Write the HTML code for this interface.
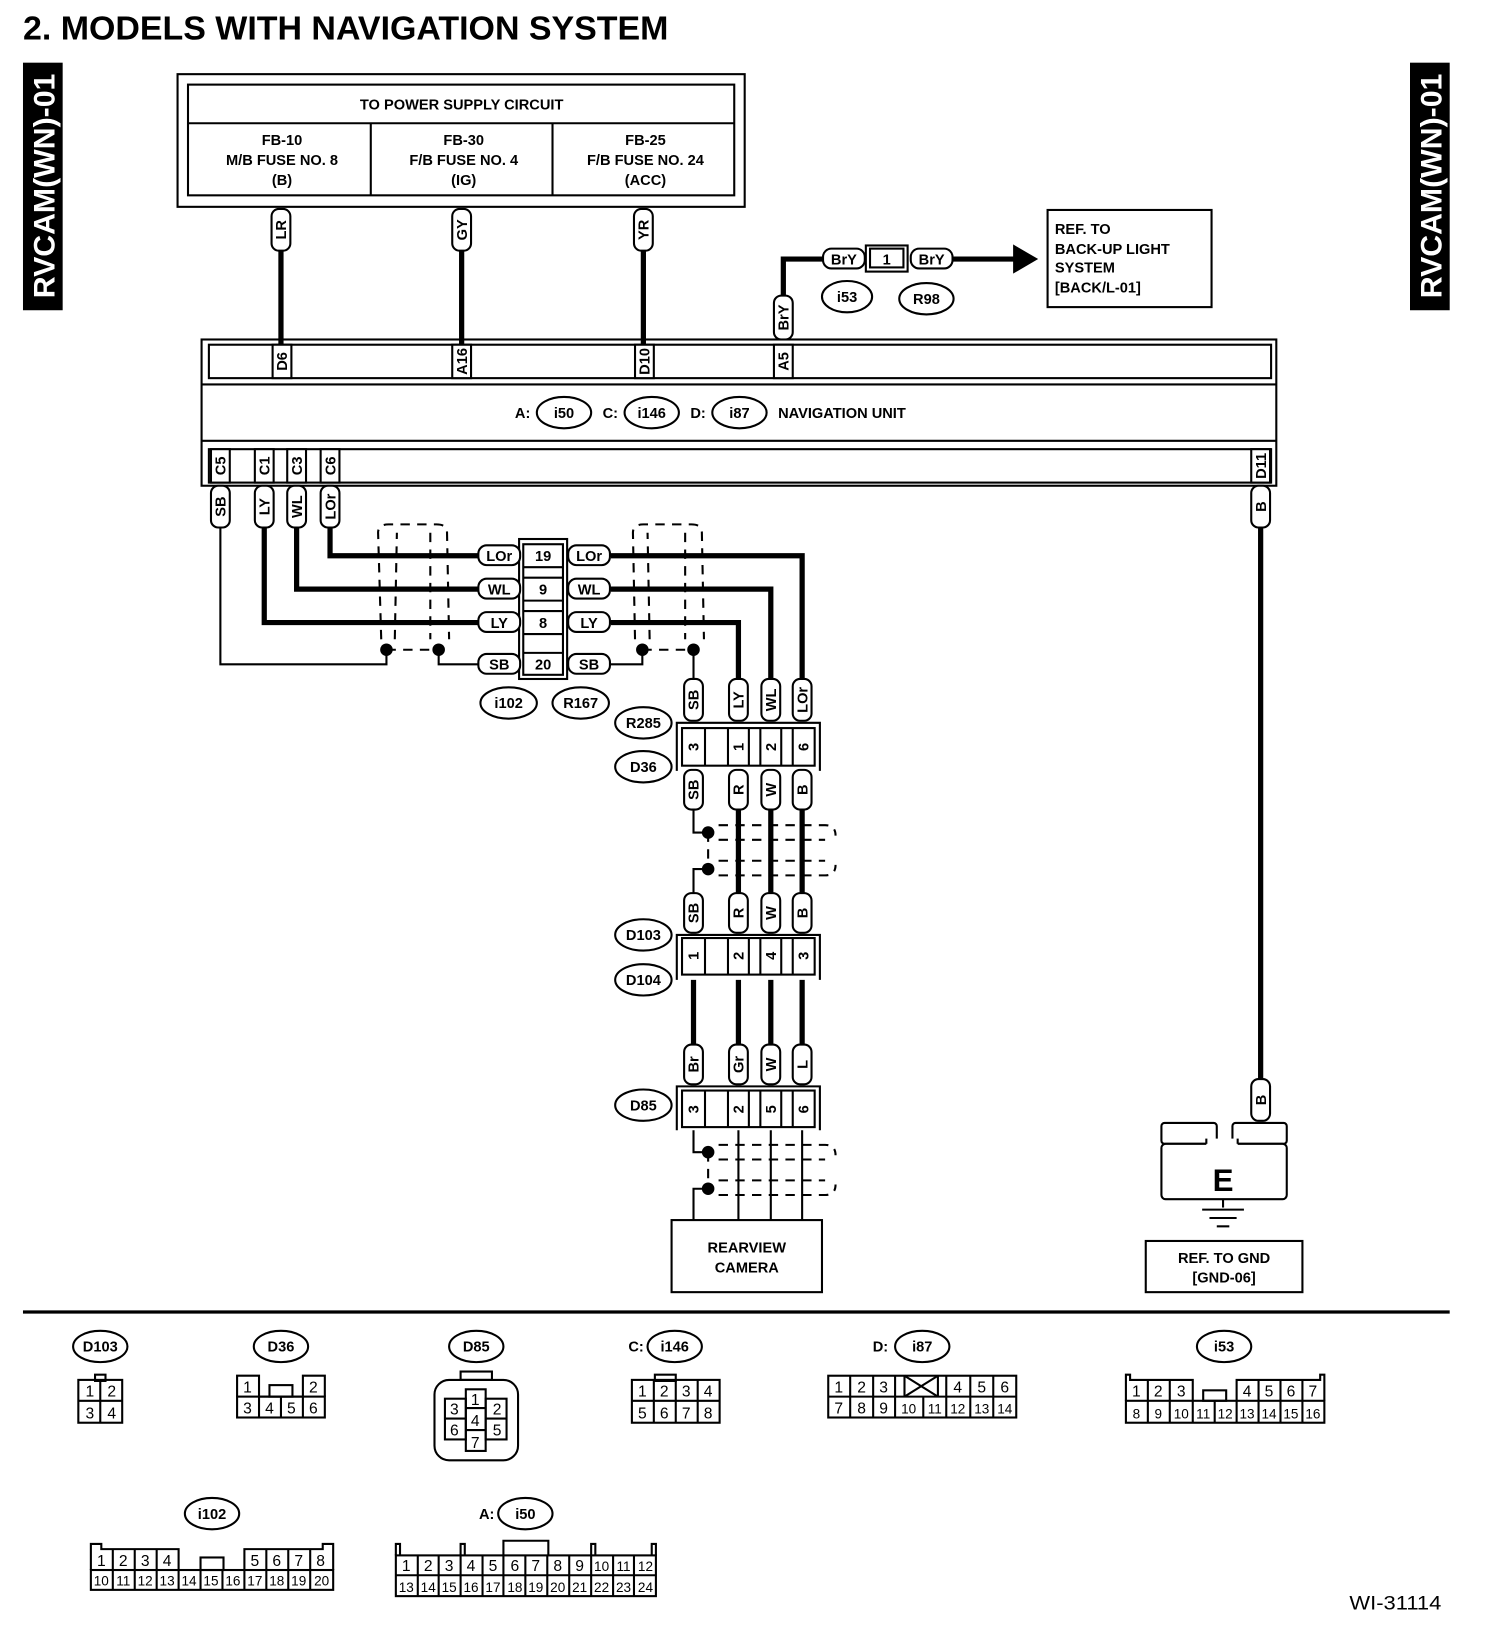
<!DOCTYPE html>
<html><head><meta charset="utf-8"><style>
html,body{margin:0;padding:0;background:#fff}
svg{display:block}
text{font-family:"Liberation Sans",sans-serif;fill:#000}
.b{font-weight:bold}
.p{fill:#fff;stroke:#000;stroke-width:2}
.t{fill:none;stroke:#000;stroke-width:2}
.w{fill:none;stroke:#000;stroke-width:5}
.d{fill:none;stroke:#000;stroke-width:2;stroke-dasharray:9 7}
.s{font-size:14px;font-weight:bold}
.c{font-size:15px}
</style></head><body>
<svg width="1504" height="1640" viewBox="0 0 1440 1570" preserveAspectRatio="none" xmlns="http://www.w3.org/2000/svg">
<text x="22" y="38" class="b" font-size="32" textLength="618" lengthAdjust="spacingAndGlyphs">2.  MODELS WITH NAVIGATION SYSTEM</text>
<rect x="22" y="60" width="38" height="237" fill="#000"/>
<text transform="translate(52,178) rotate(-90)" text-anchor="middle" font-size="28" class="b" textLength="215" lengthAdjust="spacingAndGlyphs" style="fill:#fff">RVCAM(WN)-01</text>
<rect x="1350" y="60" width="38" height="237" fill="#000"/>
<text transform="translate(1380,178) rotate(-90)" text-anchor="middle" font-size="28" class="b" textLength="215" lengthAdjust="spacingAndGlyphs" style="fill:#fff">RVCAM(WN)-01</text>

<!-- fuse box -->
<rect x="170" y="71" width="543" height="127" class="t"/>
<rect x="180" y="81" width="523" height="106" class="t" stroke-width="3"/>
<line x1="180" y1="118" x2="703" y2="118" class="t"/>
<line x1="355" y1="118" x2="355" y2="187" class="t"/>
<line x1="529" y1="118" x2="529" y2="187" class="t"/>
<g class="s" text-anchor="middle">
<text x="442" y="105">TO POWER SUPPLY CIRCUIT</text>
<text x="270" y="139">FB-10</text><text x="270" y="158">M/B FUSE NO. 8</text><text x="270" y="177">(B)</text>
<text x="444" y="139">FB-30</text><text x="444" y="158">F/B FUSE NO. 4</text><text x="444" y="177">(IG)</text>
<text x="618" y="139">FB-25</text><text x="618" y="158">F/B FUSE NO. 24</text><text x="618" y="177">(ACC)</text>
</g>
<line x1="269" y1="240" x2="269" y2="330" class="w"/>
<line x1="442" y1="240" x2="442" y2="330" class="w"/>
<line x1="616" y1="240" x2="616" y2="330" class="w"/>
<rect x="260" y="200" width="18" height="40" rx="7" class="p"/><text class="s" text-anchor="middle" transform="translate(274,220) rotate(-90)">LR</text>
<rect x="433" y="200" width="18" height="40" rx="7" class="p"/><text class="s" text-anchor="middle" transform="translate(447,220) rotate(-90)">GY</text>
<rect x="607" y="200" width="18" height="40" rx="7" class="p"/><text class="s" text-anchor="middle" transform="translate(621,220) rotate(-90)">YR</text>

<!-- BrY -->
<polyline points="750,285 750,248 790,248" class="w"/>
<line x1="912" y1="248" x2="975" y2="248" class="w"/>
<polygon points="970,234 994,248 970,262" fill="#000"/>
<rect x="741" y="283" width="18" height="42" rx="7" class="p"/><text class="s" text-anchor="middle" transform="translate(755,304) rotate(-90)">BrY</text>
<rect x="788" y="238" width="40" height="19" rx="8" class="p"/><text class="s" x="808" y="253" text-anchor="middle">BrY</text>
<rect x="829" y="235" width="40" height="25" class="t"/><rect x="833" y="238" width="32" height="18" class="t"/><text class="s" x="849" y="253" text-anchor="middle">1</text>
<rect x="872" y="238" width="40" height="19" rx="8" class="p"/><text class="s" x="892" y="253" text-anchor="middle">BrY</text>
<ellipse cx="811" cy="284" rx="24" ry="15" class="p"/><text class="s" x="811" y="289" text-anchor="middle">i53</text>
<ellipse cx="887" cy="286" rx="26" ry="15" class="p"/><text class="s" x="887" y="291" text-anchor="middle">R98</text>
<rect x="1003" y="201" width="157" height="93" class="t"/>
<g class="s"><text x="1010" y="224">REF. TO</text><text x="1010" y="243">BACK-UP LIGHT</text><text x="1010" y="261">SYSTEM</text><text x="1010" y="280">[BACK/L-01]</text></g>

<!-- nav unit -->
<rect x="193" y="325" width="1029" height="140" class="t" stroke-width="3"/>
<rect x="200" y="330" width="1017" height="32" class="t"/>
<line x1="193" y1="368" x2="1222" y2="368" class="t" stroke-width="3"/>
<line x1="193" y1="422" x2="1222" y2="422" class="t" stroke-width="3"/>
<rect x="200" y="430" width="1017" height="32" class="t"/>
<g class="s" text-anchor="middle">
<rect x="261" y="330" width="18" height="32" class="p"/><text transform="translate(275,346) rotate(-90)">D6</text>
<rect x="433" y="330" width="18" height="32" class="p"/><text transform="translate(447,346) rotate(-90)">A16</text>
<rect x="608" y="330" width="18" height="32" class="p"/><text transform="translate(622,346) rotate(-90)">D10</text>
<rect x="741" y="330" width="18" height="32" class="p"/><text transform="translate(755,346) rotate(-90)">A5</text>
<rect x="202" y="430" width="18" height="32" class="p"/><text transform="translate(216,446) rotate(-90)">C5</text>
<rect x="244" y="430" width="18" height="32" class="p"/><text transform="translate(258,446) rotate(-90)">C1</text>
<rect x="275" y="430" width="18" height="32" class="p"/><text transform="translate(289,446) rotate(-90)">C3</text>
<rect x="307" y="430" width="18" height="32" class="p"/><text transform="translate(321,446) rotate(-90)">C6</text>
<rect x="1198" y="430" width="18" height="32" class="p"/><text transform="translate(1212,446) rotate(-90)">D11</text>
</g>
<g class="s">
<text x="493" y="400">A:</text><ellipse cx="540" cy="395" rx="26" ry="15" class="p"/><text x="540" y="400" text-anchor="middle">i50</text>
<text x="577" y="400">C:</text><ellipse cx="624" cy="395" rx="26" ry="15" class="p"/><text x="624" y="400" text-anchor="middle">i146</text>
<text x="661" y="400">D:</text><ellipse cx="708" cy="395" rx="26" ry="15" class="p"/><text x="708" y="400" text-anchor="middle">i87</text>
<text x="745" y="400">NAVIGATION UNIT</text>
</g>

<!-- wires left -->
<polyline points="316,505 316,532 458,532" class="w"/>
<polyline points="284,505 284,564 458,564" class="w"/>
<polyline points="253,505 253,596 458,596" class="w"/>
<polyline points="211,505 211,636 370,636 370,622" class="t"/>
<polyline points="458,636 420,636 420,622" class="t"/>
<line x1="370" y1="622" x2="420" y2="622" class="d"/>
<circle cx="370" cy="622" r="6"/><circle cx="420" cy="622" r="6"/>
<path d="M365,612 L362,510 Q362,502 372,502 L418,502 Q428,502 428,510 L430,612" class="d"/>
<path d="M378,612 L380,510 M412,510 L412,612" class="d"/>
<g class="s" text-anchor="middle">
<rect x="202" y="465" width="18" height="40" rx="7" class="p"/><text transform="translate(216,485) rotate(-90)">SB</text>
<rect x="244" y="465" width="18" height="40" rx="7" class="p"/><text transform="translate(258,485) rotate(-90)">LY</text>
<rect x="275" y="465" width="18" height="40" rx="7" class="p"/><text transform="translate(289,485) rotate(-90)">WL</text>
<rect x="307" y="465" width="18" height="40" rx="7" class="p"/><text transform="translate(321,485) rotate(-90)">LOr</text>
</g>
<!-- i102 connector -->
<rect x="497" y="516" width="46" height="134" class="t"/>
<rect x="501" y="521" width="38" height="125" class="t"/>
<g class="t"><line x1="501" y1="543" x2="539" y2="543"/><line x1="501" y1="553" x2="539" y2="553"/><line x1="501" y1="575" x2="539" y2="575"/><line x1="501" y1="585" x2="539" y2="585"/><line x1="501" y1="607" x2="539" y2="607"/><line x1="501" y1="625" x2="539" y2="625"/></g>
<g class="s" text-anchor="middle">
<text x="520" y="537">19</text><text x="520" y="569">9</text><text x="520" y="601">8</text><text x="520" y="641">20</text>
<rect x="458" y="522" width="40" height="19" rx="8" class="p"/><text x="478" y="537">LOr</text>
<rect x="458" y="554" width="40" height="19" rx="8" class="p"/><text x="478" y="569">WL</text>
<rect x="458" y="586" width="40" height="19" rx="8" class="p"/><text x="478" y="601">LY</text>
<rect x="458" y="626" width="40" height="19" rx="8" class="p"/><text x="478" y="641">SB</text>
</g>
<!-- right of i102 -->
<polyline points="585,532 768,532 768,650" class="w"/>
<polyline points="585,564 738,564 738,650" class="w"/>
<polyline points="585,596 707,596 707,650" class="w"/>
<polyline points="585,636 615,636 615,622" class="t"/>
<polyline points="664,650 664,622" class="t"/>
<line x1="615" y1="622" x2="664" y2="622" class="d"/>
<circle cx="615" cy="622" r="6"/><circle cx="664" cy="622" r="6"/>
<path d="M608,612 L606,510 Q606,502 616,502 L662,502 Q672,502 672,510 L674,612" class="d"/>
<path d="M622,612 L620,510 M656,510 L656,612" class="d"/>
<g class="s" text-anchor="middle">
<rect x="544" y="522" width="40" height="19" rx="8" class="p"/><text x="564" y="537">LOr</text>
<rect x="544" y="554" width="40" height="19" rx="8" class="p"/><text x="564" y="569">WL</text>
<rect x="544" y="586" width="40" height="19" rx="8" class="p"/><text x="564" y="601">LY</text>
<rect x="544" y="626" width="40" height="19" rx="8" class="p"/><text x="564" y="641">SB</text>
<ellipse cx="487" cy="673" rx="27" ry="15" class="p"/><text x="487" y="678">i102</text>
<ellipse cx="556" cy="673" rx="27" ry="15" class="p"/><text x="556" y="678">R167</text>
<ellipse cx="616" cy="692" rx="27" ry="15" class="p"/><text x="616" y="697">R285</text>
<ellipse cx="616" cy="734" rx="27" ry="15" class="p"/><text x="616" y="739">D36</text>
<ellipse cx="616" cy="895" rx="27" ry="15" class="p"/><text x="616" y="900">D103</text>
<ellipse cx="616" cy="938" rx="27" ry="15" class="p"/><text x="616" y="943">D104</text>
<ellipse cx="616" cy="1058" rx="27" ry="15" class="p"/><text x="616" y="1063">D85</text>
</g>

<!-- vertical chain -->
<g class="s" text-anchor="middle">
<rect x="655" y="650" width="18" height="40" rx="7" class="p"/><text transform="translate(669,670) rotate(-90)">SB</text>
<rect x="698" y="650" width="18" height="40" rx="7" class="p"/><text transform="translate(712,670) rotate(-90)">LY</text>
<rect x="729" y="650" width="18" height="40" rx="7" class="p"/><text transform="translate(743,670) rotate(-90)">WL</text>
<rect x="759" y="650" width="18" height="40" rx="7" class="p"/><text transform="translate(773,670) rotate(-90)">LOr</text>
</g>
<!-- D36 connector -->
<polyline points="648,738 648,692 785,692 785,738" class="t"/>
<rect x="653" y="697" width="127" height="36" class="t"/>
<g class="t"><line x1="675" y1="697" x2="675" y2="733"/><line x1="697" y1="697" x2="697" y2="733"/><line x1="717" y1="697" x2="717" y2="733"/><line x1="728" y1="697" x2="728" y2="733"/><line x1="748" y1="697" x2="748" y2="733"/><line x1="759" y1="697" x2="759" y2="733"/></g>
<g class="s" text-anchor="middle">
<text transform="translate(669,715) rotate(-90)">3</text><text transform="translate(712,715) rotate(-90)">1</text><text transform="translate(743,715) rotate(-90)">2</text><text transform="translate(774,715) rotate(-90)">6</text>
</g>
<line x1="707" y1="775" x2="707" y2="855" class="w"/>
<line x1="738" y1="775" x2="738" y2="855" class="w"/>
<line x1="768" y1="775" x2="768" y2="855" class="w"/>
<polyline points="664,775 664,797 678,797" class="t"/>
<polyline points="664,855 664,832 678,832" class="t"/>
<line x1="678" y1="797" x2="678" y2="832" class="d"/>
<circle cx="678" cy="797" r="6"/><circle cx="678" cy="832" r="6"/>
<path d="M688,790 L790,790 Q800,790 800,800 M688,804 L790,804 M688,824 L790,824 M688,838 L790,838 Q800,838 800,828" class="d"/>
<g class="s" text-anchor="middle">
<rect x="655" y="737" width="18" height="38" rx="7" class="p"/><text transform="translate(669,756) rotate(-90)">SB</text>
<rect x="698" y="737" width="18" height="38" rx="7" class="p"/><text transform="translate(712,756) rotate(-90)">R</text>
<rect x="729" y="737" width="18" height="38" rx="7" class="p"/><text transform="translate(743,756) rotate(-90)">W</text>
<rect x="759" y="737" width="18" height="38" rx="7" class="p"/><text transform="translate(773,756) rotate(-90)">B</text>
<rect x="655" y="855" width="18" height="38" rx="7" class="p"/><text transform="translate(669,874) rotate(-90)">SB</text>
<rect x="698" y="855" width="18" height="38" rx="7" class="p"/><text transform="translate(712,874) rotate(-90)">R</text>
<rect x="729" y="855" width="18" height="38" rx="7" class="p"/><text transform="translate(743,874) rotate(-90)">W</text>
<rect x="759" y="855" width="18" height="38" rx="7" class="p"/><text transform="translate(773,874) rotate(-90)">B</text>
</g>
<!-- D103 connector -->
<polyline points="648,938 648,895 785,895 785,938" class="t"/>
<rect x="653" y="898" width="127" height="35" class="t"/>
<g class="t"><line x1="675" y1="898" x2="675" y2="933"/><line x1="697" y1="898" x2="697" y2="933"/><line x1="717" y1="898" x2="717" y2="933"/><line x1="728" y1="898" x2="728" y2="933"/><line x1="748" y1="898" x2="748" y2="933"/><line x1="759" y1="898" x2="759" y2="933"/></g>
<g class="s" text-anchor="middle">
<text transform="translate(669,915) rotate(-90)">1</text><text transform="translate(712,915) rotate(-90)">2</text><text transform="translate(743,915) rotate(-90)">4</text><text transform="translate(774,915) rotate(-90)">3</text>
</g>
<line x1="664" y1="938" x2="664" y2="1000" class="w"/>
<line x1="707" y1="938" x2="707" y2="1000" class="w"/>
<line x1="738" y1="938" x2="738" y2="1000" class="w"/>
<line x1="768" y1="938" x2="768" y2="1000" class="w"/>
<g class="s" text-anchor="middle">
<rect x="655" y="1000" width="18" height="38" rx="7" class="p"/><text transform="translate(669,1019) rotate(-90)">Br</text>
<rect x="698" y="1000" width="18" height="38" rx="7" class="p"/><text transform="translate(712,1019) rotate(-90)">Gr</text>
<rect x="729" y="1000" width="18" height="38" rx="7" class="p"/><text transform="translate(743,1019) rotate(-90)">W</text>
<rect x="759" y="1000" width="18" height="38" rx="7" class="p"/><text transform="translate(773,1019) rotate(-90)">L</text>
</g>
<!-- D85 connector -->
<polyline points="648,1082 648,1040 785,1040 785,1082" class="t"/>
<rect x="653" y="1044" width="127" height="35" class="t"/>
<g class="t"><line x1="675" y1="1044" x2="675" y2="1079"/><line x1="697" y1="1044" x2="697" y2="1079"/><line x1="717" y1="1044" x2="717" y2="1079"/><line x1="728" y1="1044" x2="728" y2="1079"/><line x1="748" y1="1044" x2="748" y2="1079"/><line x1="759" y1="1044" x2="759" y2="1079"/></g>
<g class="s" text-anchor="middle">
<text transform="translate(669,1062) rotate(-90)">3</text><text transform="translate(712,1062) rotate(-90)">2</text><text transform="translate(743,1062) rotate(-90)">5</text><text transform="translate(774,1062) rotate(-90)">6</text>
</g>
<polyline points="664,1082 664,1103 678,1103" class="t"/>
<polyline points="664,1168 664,1138 678,1138" class="t"/>
<line x1="678" y1="1103" x2="678" y2="1138" class="d"/>
<circle cx="678" cy="1103" r="6"/><circle cx="678" cy="1138" r="6"/>
<g class="t"><line x1="707" y1="1082" x2="707" y2="1168"/><line x1="738" y1="1082" x2="738" y2="1168"/><line x1="768" y1="1082" x2="768" y2="1168"/></g>
<path d="M688,1096 L790,1096 Q800,1096 800,1106 M688,1110 L790,1110 M688,1130 L790,1130 M688,1144 L790,1144 Q800,1144 800,1134" class="d"/>
<rect x="643" y="1168" width="144" height="69" class="t"/>
<g class="s" text-anchor="middle"><text x="715" y="1199">REARVIEW</text><text x="715" y="1218">CAMERA</text></g>

<!-- ground -->
<line x1="1207" y1="505" x2="1207" y2="1035" class="w"/>
<rect x="1198" y="465" width="18" height="40" rx="7" class="p"/><text class="s" text-anchor="middle" transform="translate(1212,485) rotate(-90)">B</text>
<rect x="1198" y="1033" width="18" height="40" rx="7" class="p"/><text class="s" text-anchor="middle" transform="translate(1212,1053) rotate(-90)">B</text>
<rect x="1112" y="1075" width="53" height="20" rx="3" class="p" stroke-width="3"/>
<rect x="1180" y="1075" width="52" height="20" rx="3" class="p" stroke-width="3"/>
<rect x="1112" y="1095" width="120" height="53" rx="4" class="p" stroke-width="3"/>
<rect x="1155" y="1090" width="30" height="12" fill="#fff"/>
<line x1="1155" y1="1095" x2="1155" y2="1090" class="t"/><line x1="1185" y1="1095" x2="1185" y2="1090" class="t"/>
<text x="1171" y="1140" text-anchor="middle" class="b" font-size="30">E</text>
<line x1="1171" y1="1148" x2="1171" y2="1156" class="t"/>
<line x1="1151" y1="1158" x2="1191" y2="1158" class="t"/>
<line x1="1158" y1="1166" x2="1184" y2="1166" class="t"/>
<line x1="1165" y1="1174" x2="1177" y2="1174" class="t"/>
<rect x="1097" y="1188" width="150" height="49" class="t"/>
<g class="s" text-anchor="middle"><text x="1172" y="1209">REF. TO GND</text><text x="1172" y="1228">[GND-06]</text></g>

<line x1="22" y1="1256" x2="1388" y2="1256" stroke="#000" stroke-width="3"/>

<!-- connector faces -->
<g class="s" text-anchor="middle">
<ellipse cx="96" cy="1289" rx="26" ry="15" class="p"/><text x="96" y="1294">D103</text>
<ellipse cx="269" cy="1289" rx="26" ry="15" class="p"/><text x="269" y="1294">D36</text>
<ellipse cx="456" cy="1289" rx="26" ry="15" class="p"/><text x="456" y="1294">D85</text>
<text x="609" y="1294">C:</text><ellipse cx="646" cy="1289" rx="26" ry="15" class="p"/><text x="646" y="1294">i146</text>
<text x="843" y="1294">D:</text><ellipse cx="883" cy="1289" rx="26" ry="15" class="p"/><text x="883" y="1294">i87</text>
<ellipse cx="1172" cy="1289" rx="26" ry="15" class="p"/><text x="1172" y="1294">i53</text>
<ellipse cx="203" cy="1449" rx="26" ry="15" class="p"/><text x="203" y="1454">i102</text>
<text x="466" y="1454">A:</text><ellipse cx="503" cy="1449" rx="26" ry="15" class="p"/><text x="503" y="1454">i50</text>
</g>
<g class="c" text-anchor="middle">
<!-- D103 -->
<rect x="91" y="1316" width="10" height="6" class="t"/>
<rect x="75" y="1321" width="42" height="41" class="t"/><line x1="96" y1="1321" x2="96" y2="1362" class="t"/><line x1="75" y1="1341" x2="117" y2="1341" class="t"/>
<text x="86" y="1337">1</text><text x="107" y="1337">2</text><text x="86" y="1358">3</text><text x="107" y="1358">4</text>
<!-- D36 -->
<polyline points="227,1337 227,1317 248,1317 248,1337 290,1337 290,1317 311,1317 311,1337" class="t"/>
<rect x="227" y="1337" width="84" height="20" class="t"/>
<rect x="258" y="1326" width="22" height="11" class="t"/>
<line x1="248" y1="1337" x2="248" y2="1357" class="t"/><line x1="269" y1="1337" x2="269" y2="1357" class="t"/><line x1="290" y1="1337" x2="290" y2="1357" class="t"/>
<text x="237" y="1333">1</text><text x="300" y="1333">2</text>
<text x="237" y="1353">3</text><text x="258" y="1353">4</text><text x="279" y="1353">5</text><text x="300" y="1353">6</text>
<!-- D85 -->
<rect x="441" y="1313" width="30" height="8" class="t"/>
<rect x="416" y="1321" width="80" height="77" rx="14" class="t"/>
<rect x="446" y="1330" width="19" height="59" class="t"/><line x1="446" y1="1348" x2="465" y2="1348" class="t"/><line x1="446" y1="1369" x2="465" y2="1369" class="t"/>
<rect x="426" y="1339" width="20" height="39" class="t"/><line x1="426" y1="1358" x2="446" y2="1358" class="t"/>
<rect x="465" y="1339" width="20" height="39" class="t"/><line x1="465" y1="1358" x2="485" y2="1358" class="t"/>
<text x="455" y="1345">1</text><text x="435" y="1354">3</text><text x="476" y="1354">2</text><text x="455" y="1365">4</text><text x="435" y="1374">6</text><text x="476" y="1374">5</text><text x="455" y="1386">7</text>
<!-- i146 -->
<rect x="627" y="1316" width="20" height="6" class="t"/>
<rect x="605" y="1321" width="84" height="41" class="t"/><line x1="605" y1="1341" x2="689" y2="1341" class="t"/>
<line x1="626" y1="1321" x2="626" y2="1362" class="t"/><line x1="647" y1="1321" x2="647" y2="1362" class="t"/><line x1="668" y1="1321" x2="668" y2="1362" class="t"/>
<text x="615" y="1337">1</text><text x="636" y="1337">2</text><text x="657" y="1337">3</text><text x="678" y="1337">4</text>
<text x="615" y="1358">5</text><text x="636" y="1358">6</text><text x="657" y="1358">7</text><text x="678" y="1358">8</text>
<!-- i87 -->
<rect x="793" y="1317" width="180" height="40" class="t"/><line x1="793" y1="1337" x2="973" y2="1337" class="t"/>
<g class="t"><line x1="814" y1="1317" x2="814" y2="1357"/><line x1="836" y1="1317" x2="836" y2="1357"/><line x1="857" y1="1317" x2="857" y2="1357"/><line x1="884" y1="1337" x2="884" y2="1357"/><line x1="906" y1="1317" x2="906" y2="1357"/><line x1="929" y1="1317" x2="929" y2="1357"/><line x1="951" y1="1317" x2="951" y2="1357"/><line x1="866" y1="1317" x2="866" y2="1337"/><line x1="898" y1="1317" x2="898" y2="1337"/><line x1="866" y1="1317" x2="898" y2="1337"/><line x1="898" y1="1317" x2="866" y2="1337"/></g>
<text x="803" y="1333">1</text><text x="825" y="1333">2</text><text x="846" y="1333">3</text><text x="917" y="1333">4</text><text x="940" y="1333">5</text><text x="962" y="1333">6</text>
<text x="803" y="1353">7</text><text x="825" y="1353">8</text><text x="846" y="1353">9</text><text x="870" y="1353" font-size="13">10</text><text x="895" y="1353" font-size="13">11</text><text x="917" y="1353" font-size="13">12</text><text x="940" y="1353" font-size="13">13</text><text x="962" y="1353" font-size="13">14</text>
<!-- i53 -->
<polyline points="1078,1341 1078,1316 1082,1316 1082,1321 1142,1321 1142,1341" class="t"/>
<polyline points="1184,1341 1184,1321 1264,1321 1264,1316 1268,1316 1268,1341" class="t"/>
<rect x="1152" y="1331" width="22" height="10" class="t"/>
<rect x="1078" y="1341" width="190" height="21" class="t"/>
<g class="t"><line x1="1099" y1="1321" x2="1099" y2="1362"/><line x1="1120" y1="1321" x2="1120" y2="1362"/><line x1="1142" y1="1341" x2="1142" y2="1362"/><line x1="1163" y1="1341" x2="1163" y2="1362"/><line x1="1184" y1="1341" x2="1184" y2="1362"/><line x1="1205" y1="1321" x2="1205" y2="1362"/><line x1="1226" y1="1321" x2="1226" y2="1362"/><line x1="1247" y1="1321" x2="1247" y2="1362"/></g>
<text x="1088" y="1337">1</text><text x="1109" y="1337">2</text><text x="1131" y="1337">3</text><text x="1194" y="1337">4</text><text x="1215" y="1337">5</text><text x="1236" y="1337">6</text><text x="1257" y="1337">7</text>
<g font-size="13"><text x="1088" y="1358">8</text><text x="1109" y="1358">9</text><text x="1131" y="1358">10</text><text x="1152" y="1358">11</text><text x="1173" y="1358">12</text><text x="1194" y="1358">13</text><text x="1215" y="1358">14</text><text x="1236" y="1358">15</text><text x="1257" y="1358">16</text></g>
<!-- i102 -->
<polyline points="87,1503 87,1478 97,1478 97,1483 171,1483 171,1503" class="t"/>
<polyline points="234,1503 234,1483 309,1483 309,1478 319,1478 319,1503" class="t"/>
<rect x="192" y="1491" width="22" height="12" class="t"/>
<rect x="87" y="1503" width="232" height="19" class="t"/>
<g class="t"><line x1="108" y1="1483" x2="108" y2="1522"/><line x1="129" y1="1483" x2="129" y2="1522"/><line x1="150" y1="1483" x2="150" y2="1522"/><line x1="171" y1="1503" x2="171" y2="1522"/><line x1="192" y1="1503" x2="192" y2="1522"/><line x1="213" y1="1503" x2="213" y2="1522"/><line x1="234" y1="1503" x2="234" y2="1522"/><line x1="255" y1="1483" x2="255" y2="1522"/><line x1="276" y1="1483" x2="276" y2="1522"/><line x1="297" y1="1483" x2="297" y2="1522"/></g>
<text x="97" y="1499">1</text><text x="118" y="1499">2</text><text x="139" y="1499">3</text><text x="160" y="1499">4</text><text x="244" y="1499">5</text><text x="265" y="1499">6</text><text x="286" y="1499">7</text><text x="307" y="1499">8</text>
<g font-size="13"><text x="97" y="1518">10</text><text x="118" y="1518">11</text><text x="139" y="1518">12</text><text x="160" y="1518">13</text><text x="181" y="1518">14</text><text x="202" y="1518">15</text><text x="223" y="1518">16</text><text x="244" y="1518">17</text><text x="265" y="1518">18</text><text x="286" y="1518">19</text><text x="308" y="1518">20</text></g>
<!-- i50 -->
<polyline points="379,1489 379,1478 383,1478 383,1489" class="t"/>
<polyline points="441,1489 441,1478 445,1478 445,1489" class="t"/>
<polyline points="482,1489 482,1475 525,1475 525,1489" class="t"/>
<polyline points="566,1489 566,1478 570,1478 570,1489" class="t"/>
<polyline points="624,1489 624,1478 628,1478 628,1489" class="t"/>
<rect x="379" y="1489" width="249" height="39" class="t"/><line x1="379" y1="1508" x2="628" y2="1508" class="t"/>
<g class="t"><line x1="400" y1="1489" x2="400" y2="1528"/><line x1="420" y1="1489" x2="420" y2="1528"/><line x1="441" y1="1489" x2="441" y2="1528"/><line x1="462" y1="1489" x2="462" y2="1528"/><line x1="482" y1="1489" x2="482" y2="1528"/><line x1="503" y1="1489" x2="503" y2="1528"/><line x1="524" y1="1489" x2="524" y2="1528"/><line x1="545" y1="1489" x2="545" y2="1528"/><line x1="566" y1="1489" x2="566" y2="1528"/><line x1="587" y1="1489" x2="587" y2="1528"/><line x1="607" y1="1489" x2="607" y2="1528"/></g>
<text x="389" y="1504">1</text><text x="410" y="1504">2</text><text x="430" y="1504">3</text><text x="451" y="1504">4</text><text x="472" y="1504">5</text><text x="493" y="1504">6</text><text x="513" y="1504">7</text><text x="534" y="1504">8</text><text x="555" y="1504">9</text>
<g font-size="13"><text x="576" y="1504">10</text><text x="597" y="1504">11</text><text x="618" y="1504">12</text>
<text x="389" y="1524">13</text><text x="410" y="1524">14</text><text x="430" y="1524">15</text><text x="451" y="1524">16</text><text x="472" y="1524">17</text><text x="493" y="1524">18</text><text x="513" y="1524">19</text><text x="534" y="1524">20</text><text x="555" y="1524">21</text><text x="576" y="1524">22</text><text x="597" y="1524">23</text><text x="618" y="1524">24</text></g>
</g>
<text x="1292" y="1541" font-size="19" textLength="88" lengthAdjust="spacingAndGlyphs">WI-31114</text>
</svg>
</body></html>
